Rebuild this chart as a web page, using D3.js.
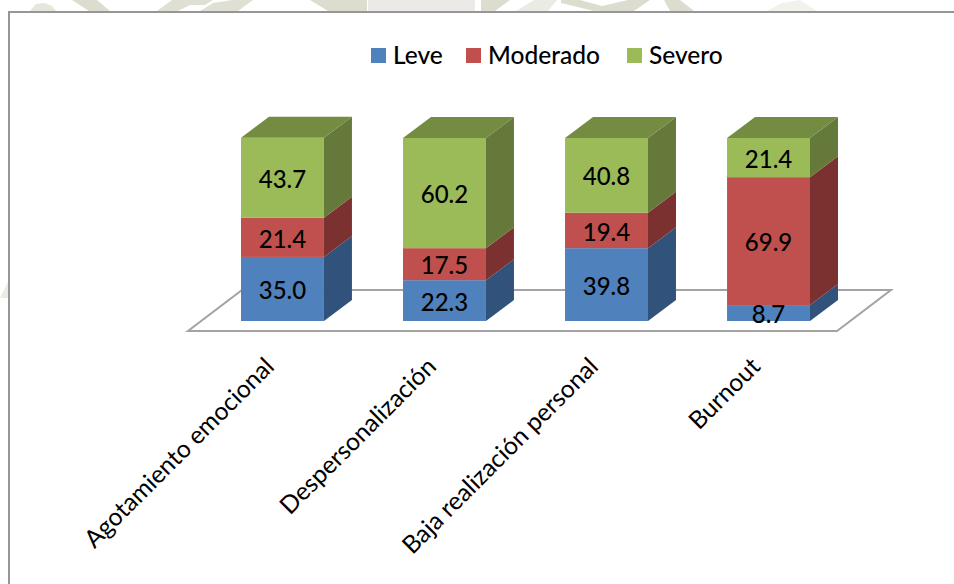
<!DOCTYPE html>
<html>
<head>
<meta charset="utf-8">
<script src="https://cdn.jsdelivr.net/npm/d3@7"></script>
<style>
	html, body { margin: 0; padding: 0; background: #fff; }
	svg { display: block; }
	text { font-family: Lato, "Open Sans", sans-serif; font-weight: 500; fill: #000; }
	.axis text { font-weight: 400; }
</style>
</head>
<body>
<div id="chart"></div>
<script>
'use strict';

var categories = ['Agotamiento emocional', 'Despersonalización', 'Baja realización personal', 'Burnout'];
var seriesNames = ['Leve', 'Moderado', 'Severo'];
var leve = [35.0, 22.3, 39.8, 8.7];
var moderado = [21.4, 17.5, 19.4, 69.9];
var severo = [43.7, 60.2, 40.8, 21.4];

var frontColors = ['#4f81bd', '#c0504d', '#9bbb59'];
var sideColors = ['#31527a', '#7a312f', '#65793a'];
var topColor = '#738c42';

var width = 954, height = 584;
var depthX = 28, depthY = 21;

var rows = categories.map(function(c, i) {
	return { category: c, Leve: leve[i], Moderado: moderado[i], Severo: severo[i] };
});

var stacked = d3.stack().keys(seriesNames)(rows);

var x = d3.scaleBand()
	.domain(categories)
	.range([241, 810])
	.paddingInner(0.488)
	.paddingOuter(0);

var y = d3.scaleLinear().domain([0, 100]).range([321, 138]);

var svg = d3.select('#chart').append('svg')
	.attr('width', width)
	.attr('height', height);

// pale letterhead pattern showing above the frame
var stripe = svg.append('g').attr('class', 'backdrop').style('filter', 'blur(0.6px)');
var stripeShapes = [
	{ fill: '#e6e6dc', pts: '30,11 36,4 44,3 52,6 56,11' },
	{ fill: '#dcddcf', pts: '72,0 97,0 110,11 89,11' },
	{ fill: '#dfe0d3', pts: '157,11 172,0 213,0 205,5 190,5 178,11' },
	{ fill: '#dfe0d3', pts: '200,11 213,3 232,0 253,0 238,11' },
	{ fill: '#dcddcf', pts: '310,0 340,0 367,0 367,11 328,11' },
	{ fill: '#ebeae6', pts: '368,0 475,0 475,11 368,11' },
	{ fill: '#dcddcf', pts: '481,0 510,0 495,11 481,11' },
	{ fill: '#ebebe5', pts: '516,11 534,0 557,0 548,11' },
	{ fill: '#dcddcf', pts: '561,0 580,0 602,6 628,0 650,0 634,11 594,11 561,3' },
	{ fill: '#dcddcf', pts: '664,0 680,0 694,11 670,11' },
	{ fill: '#f2f2ec', pts: '767,11 782,3 800,0 817,11' },
	{ fill: '#ebebe2', pts: '0,298 8,282 8,298' }
];
stripe.selectAll('polygon')
	.data(stripeShapes)
	.enter()
	.append('polygon')
	.attr('points', function(d) { return d.pts; })
	.attr('fill', function(d) { return d.fill; });

// frame, open on the right and at the bottom
svg.append('path')
	.attr('d', 'M9,' + height + 'V12H' + width)
	.attr('fill', 'none')
	.attr('stroke', '#969696')
	.attr('stroke-width', 2);

// floor of the 3D plot
var floorLeft = 188, floorRight = 837, floorFront = 331;
svg.append('polygon')
	.attr('points', [
		[floorLeft, floorFront],
		[floorRight, floorFront],
		[floorRight + 54, floorFront - 41],
		[floorLeft + 54, floorFront - 41]
	].join(' '))
	.attr('fill', '#fff')
	.attr('stroke', '#a3a3a3')
	.attr('stroke-width', 2);

// bars
var series = svg.selectAll('g.series')
	.data(stacked)
	.enter()
	.append('g')
	.attr('class', 'series');

function sidePoints(d) {
	var r = x(d.data.category) + x.bandwidth();
	return [
		[r, y(d[0])],
		[r + depthX, y(d[0]) - depthY],
		[r + depthX, y(d[1]) - depthY],
		[r, y(d[1])]
	].join(' ');
}

series.selectAll('polygon.side')
	.data(function(s) { return s; })
	.enter()
	.append('polygon')
	.attr('class', 'side')
	.attr('points', sidePoints)
	.attr('fill', function() {
		return sideColors[seriesNames.indexOf(d3.select(this.parentNode).datum().key)];
	});

series.selectAll('rect.front')
	.data(function(s) { return s; })
	.enter()
	.append('rect')
	.attr('class', 'front')
	.attr('x', function(d) { return x(d.data.category); })
	.attr('y', function(d) { return y(d[1]); })
	.attr('width', x.bandwidth())
	.attr('height', function(d) { return y(d[0]) - y(d[1]); })
	.attr('fill', function() {
		return frontColors[seriesNames.indexOf(d3.select(this.parentNode).datum().key)];
	});

// only the top segment shows its lid
svg.selectAll('polygon.lid')
	.data(stacked[stacked.length - 1])
	.enter()
	.append('polygon')
	.attr('class', 'lid')
	.attr('points', function(d) {
		var l = x(d.data.category), r = l + x.bandwidth(), t = y(d[1]);
		return [
			[l, t],
			[r, t],
			[r + depthX, t - depthY],
			[l + depthX, t - depthY]
		].join(' ');
	})
	.attr('fill', topColor);

// value labels
series.selectAll('text')
	.data(function(s) {
		return s.map(function(d) {
			return { seg: d, value: d.data[s.key] };
		});
	})
	.enter()
	.append('text')
	.attr('x', function(d) { return x(d.seg.data.category) + x.bandwidth() / 2; })
	.attr('y', function(d) { return (y(d.seg[0]) + y(d.seg[1])) / 2 + 1.5; })
	.attr('dy', '0.36em')
	.attr('text-anchor', 'middle')
	.attr('font-size', 24)
	.text(function(d) { return d.value.toFixed(1); });

// category axis, labels slanted up to the right
var axis = svg.append('g')
	.attr('class', 'axis')
	.attr('transform', 'translate(-13,362)')
	.call(d3.axisBottom(x).tickSize(0));

axis.select('.domain').remove();
axis.selectAll('text')
	.attr('font-size', 24.6)
	.attr('font-family', null)
	.attr('text-anchor', 'end')
	.attr('dy', '0.35em')
	.attr('y', 0)
	.attr('transform', 'rotate(-45)');

// legend
var legendX = [371, 466, 627];
var legend = svg.selectAll('g.legend')
	.data(seriesNames)
	.enter()
	.append('g')
	.attr('class', 'legend')
	.attr('transform', function(d, i) { return 'translate(' + legendX[i] + ',48)'; });

legend.append('rect')
	.attr('width', 15)
	.attr('height', 15)
	.attr('fill', function(d, i) { return frontColors[i]; });

legend.append('text')
	.attr('x', 22)
	.attr('y', 15.5)
	.attr('font-size', 24.5)
	.text(function(d) { return d; });
</script>
</body>
</html>
